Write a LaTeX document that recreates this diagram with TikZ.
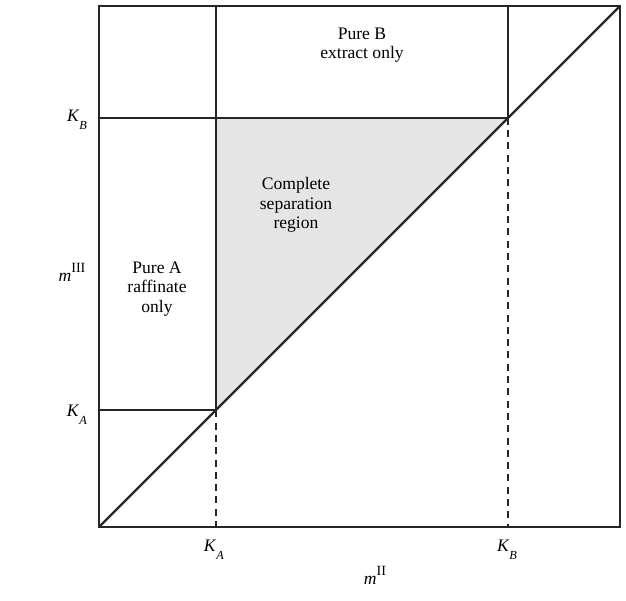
\documentclass[tikz,border=0pt]{standalone}
\usepackage{fontspec}
\setmainfont{Liberation Serif}
\usepackage{tikz}
\usetikzlibrary{positioning,calc}

\newcommand{\kval}[1]{\textit{K}\raisebox{-1ex}{\scriptsize\textit{#1}}}
\newcommand{\maxis}[1]{\textit{m}\raisebox{1.1ex}{\footnotesize #1}}

\begin{document}
\begin{tikzpicture}[font=\fontsize{10}{11}\selectfont,
    bound/.style={line width=1.25pt, black!85},
    proj/.style={bound, dash pattern=on 4pt off 3pt}]

\useasboundingbox (0,0) rectangle (12.52,12);

% Key points
\coordinate (o)  at (1.98, 1.46);
\coordinate (tr) at (12.40, 11.88);
\coordinate (a)  at (4.314, 3.794);
\coordinate (b)  at (10.166, 9.646);

% Complete separation region
\fill[black!10] (a) -- (a |- b) -- (b) -- cycle;

% Frame and diagonal
\draw[bound] (o) rectangle (tr);
\draw[bound] (o) -- (tr);

% Region boundaries
\draw[bound] (o |- a) -- (a) -- (a |- tr);
\draw[bound] (o |- b) -- (b) -- (b |- tr);
\draw[proj] (a) -- (a |- o);
\draw[proj] (b) -- (b |- o);

% Region labels
\node (pureb) [align=center] at (7.24, 11.1) {Pure B\\extract only};
\node (sep)   [align=center] at (5.92, 7.9)  {Complete\\separation\\region};
\node (purea) [align=center] at (3.14, 6.22) {Pure A\\raffinate\\only};

% Axis labels
\node (my) at (1.44, 6.56) {\maxis{III}};
\node (mx) at (7.5, 0.5)   {\maxis{II}};
\node (kby) at (1.54, 9.6)  {\kval{B}};
\node (kay) at (1.54, 3.7)  {\kval{A}};
\node (kax) at (4.28, 1.0)  {\kval{A}};
\node (kbx) at (10.14, 1.0) {\kval{B}};

\end{tikzpicture}
\end{document}
